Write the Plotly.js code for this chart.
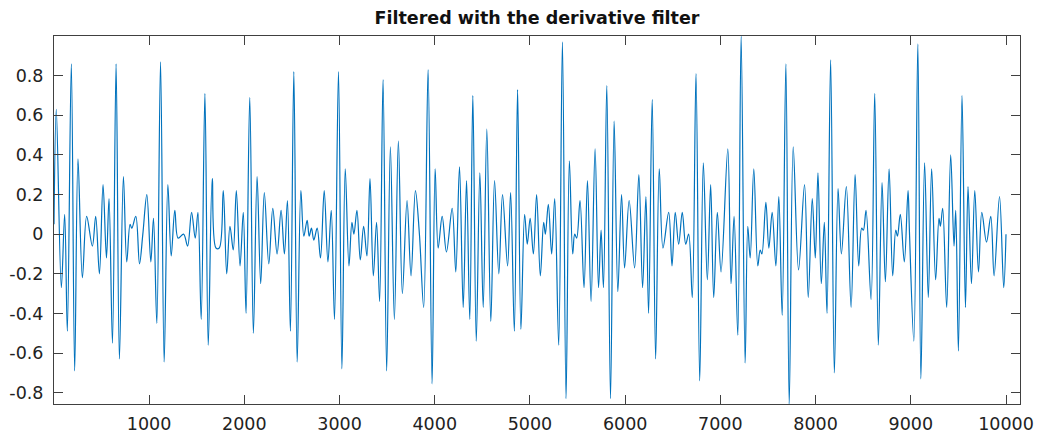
<!DOCTYPE html>
<html>
<head>
<meta charset="utf-8">
<script src="https://cdn.plot.ly/plotly-3.0.1.min.js"></script>
<style>
  html, body { margin: 0; padding: 0; background: #ffffff; }
  #chart { width: 1037px; height: 436px; }
</style>
</head>
<body>
<div id="chart"></div>
<script>
// Turning points (local maxima / minima) of the derivative-filtered signal,
// sample index vs. amplitude. The trace is drawn as a smooth spline through them.
const sampleIndex = [
  1, 25, 78, 113, 141, 183, 218, 253, 299, 344, 404, 439, 478, 516, 552, 579, 615, 653, 688, 730,
  765, 800, 818, 860, 899, 934, 976, 1018, 1046, 1081, 1120, 1158, 1197, 1232, 1270, 1305, 1362, 1404, 1446, 1484,
  1513, 1547, 1586, 1621, 1663, 1702, 1737, 1779, 1815, 1849, 1884, 1916, 1955, 1989, 2018, 2057, 2095, 2134, 2172, 2210,
  2257, 2299, 2344, 2386, 2421, 2453, 2484, 2520, 2555, 2594, 2625, 2660, 2681, 2705, 2730, 2765, 2800, 2839, 2878, 2913,
  2947, 2989, 3025, 3060, 3099, 3130, 3151, 3183, 3218, 3253, 3288, 3320, 3355, 3389, 3421, 3457, 3495, 3534, 3576, 3618,
  3660, 3709, 3751, 3797, 3839, 3884, 3930, 3972, 4004, 4036, 4078, 4123, 4183, 4221, 4260, 4299, 4334, 4368, 4400, 4436,
  4474, 4509, 4547, 4589, 4628, 4673, 4712, 4765, 4797, 4836, 4870, 4905, 4944, 4972, 5002, 5036, 5070, 5109, 5144, 5162,
  5193, 5228, 5260, 5302, 5341, 5379, 5414, 5449, 5470, 5491, 5526, 5568, 5604, 5642, 5684, 5720, 5747, 5772, 5807, 5846,
  5884, 5923, 5962, 5994, 6042, 6099, 6144, 6183, 6218, 6246, 6284, 6320, 6358, 6397, 6457, 6492, 6526, 6562, 6600, 6636,
  6667, 6705, 6744, 6783, 6821, 6863, 6898, 6930, 6968, 7007, 7078, 7112, 7144, 7183, 7218, 7260, 7288, 7313, 7351, 7393,
  7418, 7436, 7478, 7509, 7544, 7583, 7614, 7649, 7688, 7723, 7765, 7821, 7884, 7923, 7965, 7997, 8025, 8060, 8092, 8120,
  8158, 8197, 8236, 8271, 8323, 8373, 8415, 8453, 8484, 8502, 8530, 8583, 8621, 8659, 8698, 8733, 8772, 8810, 8842, 8860,
  8890, 8932, 8971, 8986, 9032, 9074, 9106, 9145, 9184, 9219, 9261, 9296, 9311, 9335, 9377, 9419, 9454, 9472, 9500, 9538,
  9574, 9601, 9637, 9672, 9711, 9746, 9795, 9840, 9875, 9932, 9976, 10000
];
const amplitude = [
  0.05, 0.63, -0.27, 0.10, -0.49, 0.86, -0.69, 0.38, -0.22, 0.09, -0.06, 0.09, -0.20, 0.25, -0.12, 0.18, -0.55, 0.86, -0.63, 0.29,
  -0.14, 0.05, 0.03, 0.09, -0.15, 0.00, 0.20, -0.14, 0.08, -0.45, 0.87, -0.645, 0.25, -0.11, 0.12, -0.02, 0.00, -0.06, 0.11, -0.02,
  0.11, -0.43, 0.71, -0.56, 0.28, -0.07, -0.07, 0.22, -0.20, 0.04, -0.08, 0.22, -0.16, 0.11, -0.40, 0.69, -0.50, 0.29, -0.25, 0.21,
  -0.15, 0.13, -0.10, 0.12, -0.10, 0.17, -0.49, 0.82, -0.645, 0.22, -0.01, 0.07, -0.01, 0.03, -0.03, 0.03, -0.12, 0.22, -0.14, 0.12,
  -0.43, 0.82, -0.68, 0.33, -0.16, 0.06, 0.00, 0.12, -0.13, 0.04, -0.11, 0.28, -0.21, 0.06, -0.34, 0.78, -0.69, 0.44, -0.43, 0.47,
  -0.30, 0.17, -0.21, 0.22, 0.00, -0.37, 0.83, -0.755, 0.33, -0.07, 0.09, -0.09, 0.13, -0.19, 0.34, -0.37, 0.27, -0.43, 0.70, -0.54,
  0.31, -0.37, 0.53, -0.44, 0.27, -0.20, 0.20, -0.16, 0.21, -0.49, 0.73, -0.48, 0.10, -0.05, 0.08, -0.10, 0.20, -0.21, 0.06, 0.00,
  0.15, -0.10, 0.18, -0.56, 0.97, -0.83, 0.37, -0.10, 0.00, -0.02, 0.17, -0.27, 0.27, -0.34, 0.43, -0.27, 0.02, -0.27, 0.75, -0.83,
  0.57, -0.29, 0.20, -0.17, 0.17, -0.17, 0.30, -0.27, 0.19, -0.40, 0.68, -0.63, 0.33, -0.07, 0.11, -0.16, 0.11, -0.05, 0.11, -0.05,
  0.00, -0.32, 0.81, -0.74, 0.36, -0.23, 0.25, -0.32, 0.11, -0.19, 0.43, -0.25, 0.09, -0.51, 1.00, -0.65, 0.04, -0.12, 0.33, -0.16,
  -0.08, -0.10, 0.16, -0.07, 0.11, -0.16, 0.19, -0.41, 0.86, -0.857, 0.44, -0.18, 0.25, -0.32, 0.18, -0.12, 0.31, -0.25, 0.06, -0.40,
  0.88, -0.70, 0.23, -0.10, 0.24, -0.37, 0.30, -0.16, 0.03, 0.02, 0.12, -0.33, 0.71, -0.56, 0.26, -0.24, 0.33, -0.21, 0.02, -0.01,
  0.10, -0.14, 0.22, 0.01, -0.54, 0.96, -0.73, 0.36, -0.32, 0.33, -0.23, 0.08, 0.04, 0.13, -0.37, 0.40, -0.06, 0.12, -0.59, 0.70,
  -0.37, 0.24, -0.25, 0.22, -0.19, 0.11, -0.04, 0.09, -0.21, 0.19, -0.27, 0.00
];

// Axis ticks
const xTickValues = [1000, 2000, 3000, 4000, 5000, 6000, 7000, 8000, 9000, 10000];
const yTickValues = [-0.8, -0.6, -0.4, -0.2, 0, 0.2, 0.4, 0.6, 0.8];
const yTickLabels = ['-0.8', '-0.6', '-0.4', '-0.2', '0', '0.2', '0.4', '0.6', '0.8'];

const axisColor = '#404040';
const tickFont = { family: 'DejaVu Sans, Liberation Sans, Arial, sans-serif', size: 17.5, color: '#222222' };

const trace = {
  x: sampleIndex,
  y: amplitude,
  type: 'scatter',
  mode: 'lines',
  line: { color: '#0072BD', width: 1.2, shape: 'spline', smoothing: 1 },
  hoverinfo: 'x+y'
};

const layout = {
  width: 1037,
  height: 436,
  margin: { l: 54, r: 17, t: 36, b: 32 },
  paper_bgcolor: '#ffffff',
  plot_bgcolor: '#ffffff',
  showlegend: false,
  title: {
    text: '<b>Filtered with the derivative filter</b>',
    font: { family: 'DejaVu Sans, Liberation Sans, Arial, sans-serif', size: 17.5, color: '#111111' },
    x: 0.5, xref: 'paper', xanchor: 'center',
    y: 0.958, yref: 'container', yanchor: 'middle'
  },
  xaxis: {
    range: [1, 10147],
    tickmode: 'array',
    tickvals: xTickValues,
    ticktext: xTickValues.map(String),
    ticks: 'inside',
    ticklen: 9,
    tickwidth: 1,
    tickcolor: axisColor,
    showline: true,
    linecolor: axisColor,
    linewidth: 1,
    mirror: 'ticks',
    showgrid: false,
    zeroline: false,
    tickfont: tickFont,
    ticklabelstandoff: 4
  },
  yaxis: {
    range: [-0.857, 1.0],
    tickmode: 'array',
    tickvals: yTickValues,
    ticktext: yTickLabels,
    ticks: 'inside',
    ticklen: 9,
    tickwidth: 1,
    tickcolor: axisColor,
    showline: true,
    linecolor: axisColor,
    linewidth: 1,
    mirror: 'ticks',
    showgrid: false,
    zeroline: false,
    tickfont: tickFont,
    ticklabelstandoff: 6
  }
};

Plotly.newPlot('chart', [trace], layout, { displayModeBar: false, staticPlot: true });
</script>
</body>
</html>
